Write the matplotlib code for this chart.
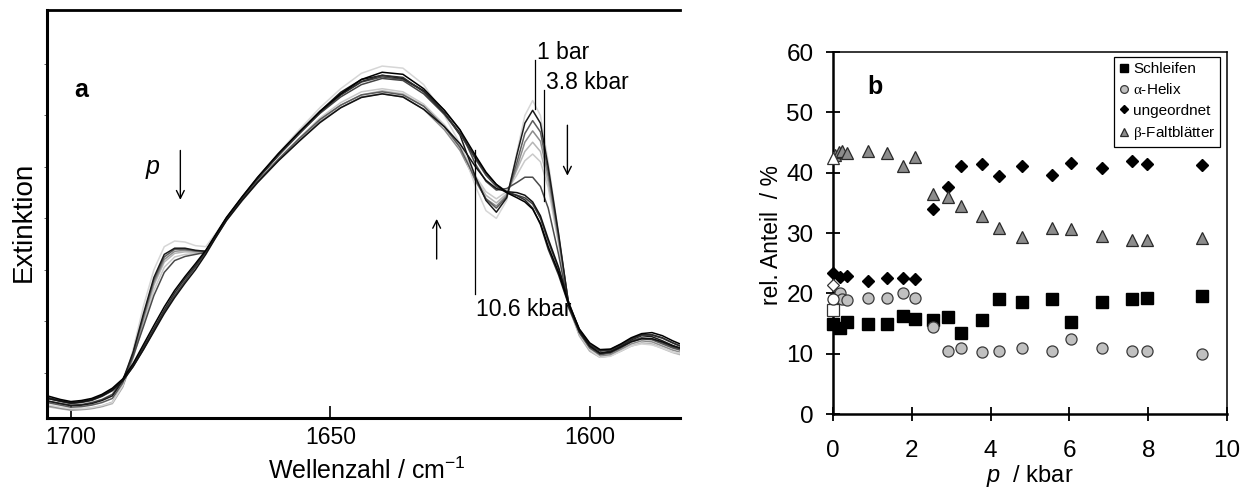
import matplotlib
matplotlib.use('Agg')
import matplotlib.pyplot as plt

plt.rcParams['font.family'] = ['Liberation Sans', 'DejaVu Sans']
plt.rcParams['mathtext.fontset'] = 'custom'
plt.rcParams['mathtext.rm'] = 'Liberation Serif'
plt.rcParams['mathtext.it'] = 'Liberation Sans:italic'
plt.rcParams['mathtext.bf'] = 'Liberation Sans:bold'
plt.rcParams['mathtext.sf'] = 'Liberation Sans'

# ---------------- Panel a: spectra ----------------
wavenumber = [1704.5, 1702, 1700, 1698, 1696, 1694, 1692, 1690, 1688, 1686,
              1684, 1682, 1680, 1678, 1676, 1674, 1672, 1670, 1667, 1664,
              1660, 1656, 1652, 1648, 1644, 1640, 1636, 1632, 1628, 1625,
              1622, 1620, 1618, 1616, 1614, 1612.5, 1611, 1609.5, 1608, 1606,
              1604, 1602, 1600, 1598, 1596, 1594, 1592, 1590, 1588, 1586,
              1584, 1582.6]

spec_1bar = [0.38, 0.33, 0.30, 0.30, 0.32, 0.36, 0.42, 0.75, 1.45, 2.3,
             3.0, 3.45, 3.56, 3.54, 3.47, 3.45, 3.72, 4.02, 4.42, 4.8,
             5.27, 5.72, 6.15, 6.52, 6.82, 6.96, 6.92, 6.6, 6.0, 5.45,
             4.62, 4.15, 4.0, 4.35, 5.3, 6.0, 6.29, 6.0, 5.1, 3.7,
             2.25, 1.75, 1.45, 1.30, 1.32, 1.42, 1.52, 1.56, 1.54, 1.48,
             1.40, 1.38]
spec_lp1 = [0.45, 0.40, 0.36, 0.37, 0.40, 0.46, 0.55, 0.85, 1.40, 2.15,
            2.85, 3.3, 3.42, 3.42, 3.38, 3.36, 3.68, 4.0, 4.4, 4.77,
            5.23, 5.66, 6.08, 6.45, 6.7, 6.78, 6.72, 6.48, 6.05, 5.62,
            4.8, 4.35, 4.12, 4.4, 5.25, 5.85, 6.10, 5.85, 5.0, 3.7,
            2.28, 1.8, 1.52, 1.38, 1.42, 1.52, 1.64, 1.72, 1.70, 1.62,
            1.53, 1.48]
spec_lp2 = [0.42, 0.37, 0.33, 0.34, 0.37, 0.42, 0.50, 0.80, 1.38, 2.1,
            2.8, 3.25, 3.4, 3.4, 3.37, 3.36, 3.66, 3.98, 4.36, 4.72,
            5.15, 5.55, 5.92, 6.2, 6.4, 6.46, 6.4, 6.18, 5.78, 5.38,
            4.75, 4.38, 4.2, 4.42, 5.1, 5.65, 5.9, 5.68, 4.9, 3.65,
            2.3, 1.78, 1.48, 1.35, 1.38, 1.48, 1.6, 1.66, 1.64, 1.56,
            1.48, 1.44]
spec_lp3 = [0.36, 0.31, 0.28, 0.29, 0.31, 0.35, 0.42, 0.74, 1.32, 2.05,
            2.75, 3.2, 3.36, 3.38, 3.36, 3.35, 3.65, 3.97, 4.35, 4.7,
            5.12, 5.5, 5.88, 6.15, 6.36, 6.42, 6.36, 6.12, 5.72, 5.32,
            4.72, 4.38, 4.24, 4.45, 5.0, 5.48, 5.7, 5.5, 4.8, 3.6,
            2.3, 1.75, 1.45, 1.32, 1.35, 1.45, 1.56, 1.62, 1.6, 1.52,
            1.44, 1.4]
spec_lp4 = [0.34, 0.30, 0.27, 0.28, 0.30, 0.34, 0.40, 0.72, 1.30, 2.0,
            2.7, 3.15, 3.32, 3.35, 3.34, 3.34, 3.64, 3.96, 4.34, 4.7,
            5.14, 5.54, 5.92, 6.2, 6.4, 6.48, 6.42, 6.18, 5.78, 5.38,
            4.78, 4.45, 4.3, 4.48, 4.95, 5.3, 5.48, 5.3, 4.7, 3.55,
            2.28, 1.72, 1.42, 1.3, 1.33, 1.42, 1.52, 1.58, 1.56, 1.48,
            1.4, 1.36]
spec_lp5 = [0.36, 0.32, 0.29, 0.30, 0.32, 0.36, 0.43, 0.74, 1.28, 1.95,
            2.6, 3.05, 3.25, 3.3, 3.32, 3.34, 3.64, 3.97, 4.36, 4.72,
            5.16, 5.56, 5.95, 6.25, 6.46, 6.52, 6.46, 6.22, 5.82, 5.42,
            4.82, 4.52, 4.38, 4.52, 4.85, 5.12, 5.25, 5.1, 4.6, 3.5,
            2.27, 1.72, 1.42, 1.3, 1.33, 1.42, 1.52, 1.57, 1.55, 1.47,
            1.39, 1.35]
spec_3_8kbar = [0.45, 0.40, 0.37, 0.38, 0.42, 0.48, 0.58, 0.86, 1.32, 1.9,
                2.5, 2.95, 3.18, 3.26, 3.3, 3.34, 3.66, 3.99, 4.4, 4.77,
                5.22, 5.64, 6.05, 6.4, 6.65, 6.75, 6.7, 6.48, 6.1, 5.72,
                5.05, 4.72, 4.55, 4.58, 4.7, 4.8, 4.8, 4.62, 4.2, 3.3,
                2.25, 1.78, 1.5, 1.36, 1.4, 1.5, 1.62, 1.68, 1.66, 1.58,
                1.5, 1.46]
spec_hp1 = [0.52, 0.46, 0.42, 0.44, 0.48, 0.56, 0.68, 0.86, 1.15, 1.5,
            1.86, 2.22, 2.55, 2.83, 3.08, 3.36, 3.69, 4.01, 4.41, 4.79,
            5.25, 5.67, 6.06, 6.4, 6.66, 6.78, 6.74, 6.46, 6.04, 5.66,
            5.18, 4.88, 4.66, 4.52, 4.44, 4.36, 4.2, 3.88, 3.4, 2.9,
            2.3, 1.82, 1.54, 1.42, 1.44, 1.54, 1.66, 1.74, 1.74, 1.68,
            1.58, 1.52]
spec_hp2 = [0.5, 0.44, 0.40, 0.42, 0.46, 0.54, 0.65, 0.84, 1.12, 1.46,
            1.82, 2.18, 2.5, 2.78, 3.05, 3.34, 3.68, 4.0, 4.4, 4.78,
            5.23, 5.65, 6.04, 6.36, 6.6, 6.72, 6.68, 6.42, 6.02, 5.64,
            5.15, 4.84, 4.62, 4.5, 4.45, 4.4, 4.28, 4.0, 3.55, 3.02,
            2.35, 1.84, 1.56, 1.43, 1.45, 1.55, 1.66, 1.73, 1.73, 1.67,
            1.58, 1.52]
spec_hp3 = [0.5, 0.45, 0.41, 0.43, 0.47, 0.55, 0.66, 0.84, 1.12, 1.45,
            1.8, 2.15, 2.46, 2.74, 3.0, 3.3, 3.64, 3.96, 4.35, 4.7,
            5.12, 5.5, 5.86, 6.15, 6.35, 6.42, 6.36, 6.12, 5.78, 5.45,
            5.0, 4.74, 4.58, 4.52, 4.5, 4.45, 4.32, 4.05, 3.6, 3.05,
            2.35, 1.82, 1.52, 1.38, 1.4, 1.5, 1.6, 1.66, 1.66, 1.6,
            1.52, 1.48]
spec_10_6kbar = [0.55, 0.48, 0.44, 0.46, 0.50, 0.58, 0.70, 0.88, 1.18, 1.55,
                 1.92, 2.28, 2.6, 2.87, 3.12, 3.38, 3.7, 4.02, 4.42, 4.8,
                 5.26, 5.68, 6.08, 6.42, 6.7, 6.84, 6.8, 6.52, 6.1, 5.72,
                 5.22, 4.9, 4.66, 4.5, 4.4, 4.32, 4.18, 3.9, 3.45, 2.95,
                 2.32, 1.85, 1.58, 1.45, 1.46, 1.56, 1.68, 1.76, 1.78, 1.72,
                 1.62, 1.56]

spectra = [spec_lp5, spec_lp4, spec_lp3, spec_1bar, spec_lp2, spec_3_8kbar,
           spec_lp1, spec_hp2, spec_hp1, spec_hp3, spec_10_6kbar]
spec_colors = ['#cacaca', '#b6b6b6', '#8c8c8c', '#d6d6d6', '#5c5c5c', '#4a4a4a',
               '#1a1a1a', '#444444', '#2c2c2c', '#111111', '#000000']

x_ticks_a = [1700, 1650, 1600]

# ---------------- Panel b: secondary structure ----------------
p_schleifen = [0.0, 0.17, 0.36, 0.89, 1.36, 1.78, 2.09, 2.53, 2.91, 3.24, 3.77,
               4.22, 4.79, 5.55, 6.05, 6.84, 7.58, 7.97, 9.36]
v_schleifen = [15.0, 14.3, 15.2, 15.0, 14.9, 16.3, 15.7, 15.6, 16.0, 13.5, 15.5,
               19.0, 18.6, 19.1, 15.3, 18.6, 19.0, 19.3, 19.6]
p_helix = [0.17, 0.24, 0.36, 0.89, 1.36, 1.78, 2.09, 2.53, 2.91, 3.24, 3.77,
           4.22, 4.79, 5.55, 6.05, 6.84, 7.58, 7.97, 9.36]
v_helix = [20.0, 19.0, 18.9, 19.2, 19.3, 20.0, 19.3, 14.4, 10.5, 10.9, 10.2,
           10.5, 10.9, 10.5, 12.4, 11.0, 10.4, 10.4, 9.9]
p_ungeordnet = [0.0, 0.17, 0.36, 0.89, 1.36, 1.78, 2.09, 2.53, 2.91, 3.24, 3.77,
                4.22, 4.79, 5.55, 6.05, 6.84, 7.58, 7.97, 9.36]
v_ungeordnet = [23.4, 22.7, 22.8, 22.1, 22.6, 22.6, 22.4, 33.9, 37.6, 41.1, 41.4,
                39.5, 41.1, 39.6, 41.6, 40.7, 41.9, 41.4, 41.2]
p_faltblatt = [0.05, 0.14, 0.22, 0.36, 0.89, 1.36, 1.78, 2.09, 2.53, 2.91, 3.24,
               3.77, 4.22, 4.79, 5.55, 6.05, 6.84, 7.58, 7.97, 9.36]
v_faltblatt = [43.0, 43.5, 43.6, 43.3, 43.6, 43.2, 41.1, 42.6, 36.4, 35.9, 34.5,
               32.9, 30.9, 29.4, 30.8, 30.6, 29.5, 28.8, 28.9, 29.2]
# reference values at ambient pressure (open symbols)
ref_p = [0.0]
ref_schleifen = [17.3]
ref_helix = [19.0]
ref_ungeordnet = [21.4]
ref_faltblatt = [42.5]

x_ticks_b = [0, 2, 4, 6, 8, 10]
y_ticks_b = [0, 10, 20, 30, 40, 50, 60]

W, H = 1249, 490
fig = plt.figure(figsize=(W / 100, H / 100), dpi=100)

# ---------- left axes ----------
axL = fig.add_axes([47 / W, (H - 418) / H, 633 / W, 408 / H])
for spec, col in zip(spectra, spec_colors):
    axL.plot(wavenumber, spec, color=col, lw=1.1, solid_joinstyle='round')
axL.set_xlim(1704.6, 1582.6)
axL.set_ylim(0.12, 8.05)
axL.set_xticks(x_ticks_a)
axL.set_yticks([1, 2, 3, 4, 5, 6, 7])
axL.set_yticklabels([])
axL.tick_params(axis='x', direction='in', length=9, width=1.2, labelsize=16.5, pad=6)
axL.tick_params(axis='y', direction='out', length=2.5, width=0.7, colors='#666666')
for s in ['left', 'bottom']:
    axL.spines[s].set_linewidth(2.2)
axL.spines['top'].set_linewidth(2.0)
axL.spines['right'].set_visible(False)

axL.text(1699.4, 6.49, 'a', fontsize=18, fontweight='bold', ha='left', va='center')
axL.text(1684.2, 4.99, 'p', fontsize=18, fontstyle='italic', ha='center', va='center')
arrow_kw = dict(arrowstyle='->', lw=1.0, color='black', mutation_scale=14, shrinkA=0, shrinkB=0)
axL.annotate('', xy=(1678.9, 4.36), xytext=(1678.9, 5.32), arrowprops=arrow_kw)
axL.annotate('', xy=(1629.5, 3.99), xytext=(1629.5, 3.21), arrowprops=arrow_kw)
axL.annotate('', xy=(1604.3, 4.83), xytext=(1604.3, 5.81), arrowprops=arrow_kw)

axL.plot([1610.6, 1610.6], [6.12, 7.07], color='black', lw=0.9)
axL.plot([1608.8, 1608.8], [4.34, 6.49], color='black', lw=0.9)
axL.plot([1622.2, 1622.2], [2.53, 5.32], color='black', lw=0.9)
axL.text(1610.2, 7.23, '1 bar', fontsize=16.5, ha='left', va='center')
axL.text(1608.4, 6.65, '3.8 kbar', fontsize=16.5, ha='left', va='center')
axL.text(1621.9, 2.23, '10.6 kbar', fontsize=16.5, ha='left', va='center')

fig.text(24 / W, 1 - 222 / H, 'Extinktion', rotation=90, fontsize=20,
         ha='center', va='center')
fig.text(367 / W, 1 - 471 / H, r'Wellenzahl / cm$^{\mathsf{-1}}$', fontsize=18,
         ha='center', va='center')

# ---------- right axes ----------
axR = fig.add_axes([833 / W, (H - 414) / H, 394 / W, 362 / H])
axR.plot(p_schleifen, v_schleifen, 's', ms=8.5, mfc='black', mec='black',
         ls='none', label='Schleifen', clip_on=False, zorder=3)
axR.plot(p_helix, v_helix, 'o', ms=8, mfc='#c0c0c0', mec='#3a3a3a', mew=0.9,
         ls='none', label=r'$\mathrm{\alpha}$-Helix', clip_on=False, zorder=3)
axR.plot(p_ungeordnet, v_ungeordnet, 'D', ms=6.2, mfc='black', mec='black',
         ls='none', label='ungeordnet', clip_on=False, zorder=3)
axR.plot(p_faltblatt, v_faltblatt, '^', ms=9, mfc='#8c8c8c', mec='#2a2a2a', mew=0.9,
         ls='none', label=r'$\mathrm{\beta}$-Faltblätter', clip_on=False, zorder=3)
axR.plot(ref_p, ref_schleifen, 's', ms=8.5, mfc='white', mec='#333333', mew=0.9,
         clip_on=False, zorder=4)
axR.plot(ref_p, ref_ungeordnet, 'D', ms=6.2, mfc='white', mec='#333333', mew=0.9,
         clip_on=False, zorder=4)
axR.plot(ref_p, ref_helix, 'o', ms=8, mfc='white', mec='#333333', mew=0.9,
         clip_on=False, zorder=4)
axR.plot(ref_p, ref_faltblatt, '^', ms=9, mfc='white', mec='#333333', mew=0.9,
         clip_on=False, zorder=4)

axR.set_xlim(0, 10)
axR.set_ylim(0, 60)
axR.set_xticks(x_ticks_b)
axR.set_yticks(y_ticks_b)
axR.tick_params(axis='both', direction='inout', length=10, width=1.3, labelsize=17.5)
axR.tick_params(axis='x', pad=14)
axR.tick_params(axis='y', pad=9)
for s in ['left', 'bottom']:
    axR.spines[s].set_linewidth(1.8)
for s in ['top', 'right']:
    axR.spines[s].set_linewidth(1.1)

axR.text(0.086, 0.903, 'b', transform=axR.transAxes, fontsize=18,
         fontweight='bold', ha='left', va='center')
leg = axR.legend(loc='upper right', bbox_to_anchor=(0.983, 0.985), fontsize=11,
                 frameon=True, fancybox=False, edgecolor='black', framealpha=1,
                 handlelength=0.7, handletextpad=0.25, labelspacing=0.42,
                 borderpad=0.3, borderaxespad=0, markerscale=0.7)
leg.get_frame().set_linewidth(0.9)

fig.text(772 / W, 1 - 235 / H, 'rel. Anteil  / %', rotation=90, fontsize=16.5,
         ha='center', va='center')
fig.text(1030 / W, 1 - 476 / H, r'$p$  / kbar', fontsize=17, ha='center', va='center')

fig.savefig('out.png', dpi=100)
